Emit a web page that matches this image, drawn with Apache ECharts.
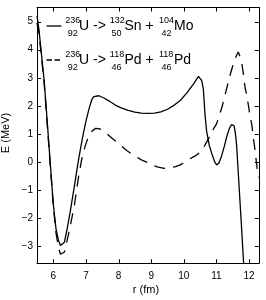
<!DOCTYPE html>
<html><head><meta charset="utf-8">
<script src="https://cdn.jsdelivr.net/npm/echarts@6/dist/echarts.min.js"></script>
<style>html,body{margin:0;padding:0;background:#fff}#c{width:266px;height:300px}</style>
</head><body><div id="c"></div>
<script>
// ---- data ----
const rSolid = [5.5,5.56,5.64,5.72,5.81,5.9,6.0,6.08,6.16,6.22,6.28,6.34,6.42,6.52,6.64,6.77,6.9,7.0,7.1,7.18,7.24,7.3,7.4,7.55,7.7,7.9,8.1,8.3,8.5,8.7,8.9,9.1,9.3,9.5,9.7,9.9,10.1,10.3,10.45,10.5,10.55,10.6,10.65,10.7,10.78,10.86,10.95,11.01,11.08,11.16,11.24,11.32,11.4,11.46,11.5,11.54,11.58,11.62,11.7,11.78,11.86];
const eSolid = [5.2,4.71,3.8,2.89,1.5,0.06,-1.5,-2.35,-2.8,-2.97,-3.02,-2.85,-2.4,-1.75,-0.9,0.06,0.9,1.45,1.92,2.22,2.33,2.37,2.36,2.28,2.18,2.03,1.92,1.84,1.78,1.74,1.73,1.74,1.79,1.88,2.02,2.2,2.47,2.78,3.05,3.12,2.9,2.6,1.7,1.1,0.6,0.3,0.0,-0.1,-0.02,0.22,0.55,0.92,1.2,1.33,1.37,1.3,1.05,0.6,-0.95,-2.5,-4.1];
const rDashed = [5.5,5.56,5.64,5.72,5.81,5.9,6.0,6.08,6.16,6.22,6.28,6.34,6.4,6.46,6.55,6.65,6.77,6.87,6.97,7.07,7.2,7.3,7.43,7.6,7.8,7.95,8.1,8.25,8.5,8.7,8.86,9.05,9.22,9.4,9.58,9.75,9.89,10.04,10.19,10.35,10.5,10.6,10.7,10.8,10.91,11.0,11.06,11.17,11.3,11.42,11.52,11.6,11.67,11.71,11.76,11.82,11.88,11.95,12.03,12.09,12.13,12.18,12.22,12.27,12.31];
const eDashed = [4.95,4.6,3.7,2.8,1.4,-0.02,-1.55,-2.5,-3.05,-3.28,-3.35,-3.2,-2.9,-2.6,-2.1,-1.5,-0.55,0.1,0.55,0.88,1.12,1.2,1.18,1.05,0.85,0.71,0.56,0.41,0.22,0.08,0.0,-0.12,-0.18,-0.22,-0.2,-0.16,-0.1,0.0,0.12,0.22,0.35,0.5,0.71,0.92,1.18,1.35,1.55,1.95,2.55,3.1,3.5,3.75,3.92,3.96,3.65,3.2,2.65,2.25,1.65,1.3,0.88,0.47,0.06,-0.41,-0.55];
const xTicks = [6,7,8,9,10,11,12];
const yTicks = [-3,-2,-1,0,1,2,3,4,5];
const xTitle = 'r (fm)';
const yTitle = 'E (MeV)';
// legend: parent nucleus, products (mass number A, charge Z, symbol)
const legendParent = {A:'236', Z:'92', s:'U'};
const legendSolid = [{A:'132', Z:'50', s:'Sn'}, {A:'104', Z:'42', s:'Mo'}];
const legendDashed = [{A:'118', Z:'46', s:'Pd'}, {A:'118', Z:'46', s:'Pd'}];

// ---- chart ----
const FONT = '"Liberation Sans", Arial, Helvetica, sans-serif';
const zip = (a, b) => a.map((v, i) => [v, b[i]]);
const fmt = v => String(v).replace('-', '\u2212');
const XMIN = 5.5, XMAX = 12.3, YMIN = -3.6, YMAX = 5.5, TICK = 4;

function axisX(pos, labels) {
  return {type:'value', min:XMIN, max:XMAX, position:pos,
    axisLine:{show:true, onZero:false, lineStyle:{color:'#000', width:1}}, splitLine:{show:false},
    axisTick:{show:false},
    axisLabel:{show:labels, customValues:xTicks, margin:8, fontSize:10, color:'#000', fontFamily:FONT, formatter:fmt}};
}
function axisY(pos, labels) {
  return {type:'value', min:YMIN, max:YMAX, position:pos,
    axisLine:{show:true, onZero:false, lineStyle:{color:'#000', width:1}}, splitLine:{show:false},
    axisTick:{show:false},
    axisLabel:{show:labels, customValues:yTicks, margin:4, fontSize:10, color:'#000', fontFamily:FONT, formatter:fmt}};
}

function txt(x, y, text, size) {
  return {type:'text', x:x, y:y, z:100,
    style:{text:text, fontSize:size, fontFamily:FONT, fill:'#000', align:'left', verticalAlign:'middle', textAlign:'left', textVerticalAlign:'middle'}};
}
function legendRow(yMid, prods, dash) {
  const sup = yMid - 5.6, sub = yMid + 7.6;
  const g = [];
  g.push({type:'line', z:100, shape:{x1:46.5, y1:yMid, x2:61.5, y2:yMid},
    style:{stroke:'#000', lineWidth:1.3, lineDash:dash}});
  g.push(txt(65.3, sup, legendParent.A, 9), txt(67.8, sub, legendParent.Z, 9), txt(79, yMid, legendParent.s + ' ->', 14));
  g.push(txt(109.8, sup, prods[0].A, 9), txt(111.5, sub, prods[0].Z, 9), txt(124.5, yMid, prods[0].s + ' +', 14));
  g.push(txt(159, sup, prods[1].A, 9), txt(161.5, sub, prods[1].Z, 9), txt(174, yMid, prods[1].s, 14));
  return g;
}

const chart = echarts.init(document.getElementById('c'), null, {renderer:'canvas'});
const baseGraphic = [
  ...legendRow(26, legendSolid, null),
  ...legendRow(60, legendDashed, [5.5, 2.5]),
  {type:'text', x:146, y:290, style:{text:xTitle, fontSize:11, fontFamily:FONT, fill:'#000', align:'center', verticalAlign:'middle', textAlign:'center', textVerticalAlign:'middle'}},
  {type:'text', x:6, y:133, rotation:Math.PI/2, style:{text:yTitle, fontSize:11, fontFamily:FONT, fill:'#000', align:'center', verticalAlign:'middle', textAlign:'center', textVerticalAlign:'middle'}}
];
chart.setOption({
  animation:false,
  backgroundColor:'#fff',
  grid:{left:37, right:7.2, top:7.5, bottom:36.7, show:false},
  xAxis:[axisX('bottom', true), axisX('top', false)],
  yAxis:[axisY('left', true), axisY('right', false)],
  series:[
    {type:'line', data:zip(rSolid, eSolid), showSymbol:false, symbol:'none', clip:true,
     lineStyle:{color:'#000', width:1.3}},
    {type:'line', data:zip(rDashed, eDashed), showSymbol:false, symbol:'none', clip:true,
     lineStyle:{color:'#000', width:1.3, type:[11, 8]}}
  ],
  graphic:baseGraphic
});

// inside tick marks on all four sides, positioned through the chart's own axis scales
const tickEls = [];
const tickLine = (x1, y1, x2, y2) => ({type:'line', z:50, silent:true,
  shape:{x1:x1, y1:y1, x2:x2, y2:y2}, style:{stroke:'#000', lineWidth:1}});
xTicks.forEach(v => {
  const b = chart.convertToPixel({gridIndex:0}, [v, YMIN]);
  const t = chart.convertToPixel({gridIndex:0}, [v, YMAX]);
  const x = Math.round(b[0]) + 0.5;
  tickEls.push(tickLine(x, b[1], x, b[1] - TICK), tickLine(x, t[1], x, t[1] + TICK));
});
yTicks.forEach(v => {
  const l = chart.convertToPixel({gridIndex:0}, [XMIN, v]);
  const r = chart.convertToPixel({gridIndex:0}, [XMAX, v]);
  const y = Math.round(l[1]) + 0.5;
  tickEls.push(tickLine(l[0], y, l[0] + TICK, y), tickLine(r[0], y, r[0] - TICK, y));
});
chart.setOption({graphic:baseGraphic.concat(tickEls)});
</script>
</body></html>
